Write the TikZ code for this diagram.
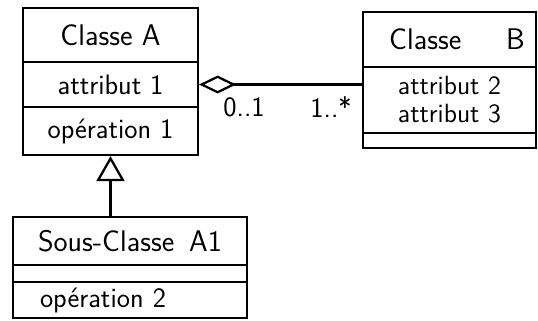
\documentclass[tikz,border=0pt]{standalone}
\usetikzlibrary{arrows.meta}

\begin{document}
\begin{tikzpicture}[x=0.02cm, y=-0.02cm,
  comp/.style={draw, line width=1.3pt, inner sep=0pt, align=center,
               font=\sffamily\fontsize{16}{17}\selectfont},
  titlecomp/.style={comp, font=\sffamily\fontsize{17}{20}\selectfont},
  agg/.style={{Diamond[open, length=0.74cm, width=0.36cm]}-, line width=1.3pt},
  gen/.style={-{Triangle[open, length=0.5cm, width=0.56cm]}, line width=1.3pt},
  mult/.style={font=\sffamily\fontsize{16}{18}\selectfont},
]
\useasboundingbox (0,0) rectangle (538,321);
% Classe A
\node[titlecomp, minimum width=3.5cm, minimum height=1.08cm] (aName) at (110.5,35)  {Classe A};
\node[comp, minimum width=3.5cm, minimum height=0.9cm]  (aAttr) at (110.5,84.5) {attribut 1};
\node[comp, minimum width=3.5cm, minimum height=0.96cm] (aOp)   at (110.5,131)  {opération 1};
% Classe B
\node[titlecomp, minimum width=3.46cm, minimum height=1.1cm]  (bName) at (449.5,39.5) {\enspace Classe\quad\enspace B};
\node[comp, minimum width=3.46cm, minimum height=1.32cm, font=\sffamily\fontsize{15}{16}\selectfont] (bAttr) at (449.5,100)  {attribut 2\\attribut 3};
\node[comp, minimum width=3.46cm, minimum height=0.3cm]  (bOp)   at (449.5,140.5) {};
% Sous-Classe A1
\node[titlecomp, minimum width=4.68cm, minimum height=0.96cm] (sName) at (130,241)   {Sous-Classe\enspace A1};
\node[comp, minimum width=4.68cm, minimum height=0.34cm] (sAttr) at (130,273.5) {};
\node[comp, minimum width=4.68cm, minimum height=0.72cm, text width=3.6cm, align=left] (sOp) at (130,300) {opération 2};
% relations
\draw[agg] (aAttr.east) -- (aAttr.east -| bAttr.west);
\node[mult] (multA) at (244,107) {0..1};
\node[mult] (multB) at (331,107) {1..*};
\draw[gen] (sName.north -| aOp.south) -- (aOp.south);
\end{tikzpicture}
\end{document}
